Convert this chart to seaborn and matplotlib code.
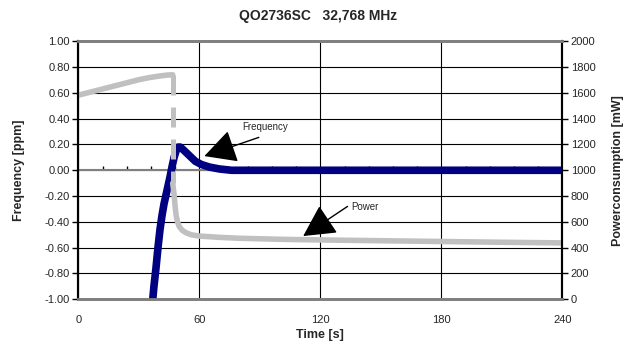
import matplotlib
matplotlib.use('Agg')
import matplotlib.pyplot as plt
import seaborn as sns
import pandas as pd

# values
freq_time = [36.8, 37.5, 38.5, 39.5, 40.5, 41.5, 42.5, 43.5, 44.5, 45.5, 46.5, 47.5, 48.5,
             49.5, 50.5, 52, 54, 56, 58, 61, 65, 70, 76, 100, 150, 200, 240]
freq_ppm = [-1.02, -0.9, -0.76, -0.6, -0.46, -0.35, -0.26, -0.19, -0.12, -0.05, 0.03,
            0.1, 0.15, 0.18, 0.18, 0.16, 0.13, 0.1, 0.07, 0.045, 0.025, 0.01, 0.0, 0.0,
            0.0, 0.0, 0.0]

pwr_time_warmup = [0, 5, 10, 15, 20, 25, 30, 35, 40, 44, 46.8]
pwr_mw_warmup = [1582, 1602, 1622, 1642, 1662, 1682, 1702, 1718, 1730, 1738, 1740]

pwr_time_step = [46.8, 46.8]
pwr_mw_step = [1740, 900]

pwr_time_settled = [46.8, 47.5, 48, 48.5, 49.2, 50, 51.5, 53.5, 56, 60, 70, 80, 100, 120,
                    150, 180, 210, 240]
pwr_mw_settled = [900, 810, 720, 650, 600, 565, 535, 515, 500, 490, 480, 473, 465, 460,
                  454, 448, 442, 437]

x_ticks = [0, 60, 120, 180, 240]
minor_x_ticks = [12, 24, 36, 48, 72, 84, 96, 108, 132, 144, 156, 168, 192, 204, 216, 228]
freq_ticks = [-1.0, -0.8, -0.6, -0.4, -0.2, 0.0, 0.2, 0.4, 0.6, 0.8, 1.0]
freq_tick_labels = ['-1.00', '-0.80', '-0.60', '-0.40', '-0.20', '0.00', '0.20', '0.40',
                    '0.60', '0.80', '1.00']
pwr_ticks = [0, 200, 400, 600, 800, 1000, 1200, 1400, 1600, 1800, 2000]

NAVY = '#000080'
SILVER = '#C0C0C0'
EDGE_GRAY = '#808080'

sns.set_style('white')
plt.rcParams['font.family'] = ['Liberation Sans', 'DejaVu Sans']

freq = pd.DataFrame({'t': freq_time, 'ppm': freq_ppm})
warm = pd.DataFrame({'t': pwr_time_warmup, 'mw': pwr_mw_warmup})
step = pd.DataFrame({'t': pwr_time_step, 'mw': pwr_mw_step})
settled = pd.DataFrame({'t': pwr_time_settled, 'mw': pwr_mw_settled})

fig = plt.figure(figsize=(6.29, 3.44), dpi=100)
ax = fig.add_axes([0.1245, 0.130, 0.7695, 0.750])

# frequency on the left axis
sns.lineplot(data=freq, x='t', y='ppm', ax=ax, color=NAVY, lw=5.5, sort=False,
             estimator=None, zorder=3)
ax.set_xlim(0, 240)
ax.set_ylim(-1, 1)
ax.set_xticks(x_ticks)
ax.set_yticks(freq_ticks)
ax.set_yticklabels(freq_tick_labels)
ax.grid(True, color='black', lw=0.8)
ax.axhline(0, color=EDGE_GRAY, lw=1.5, zorder=2)

# little ticks on the zero line
zero_axis = ax.secondary_xaxis(0.5)
zero_axis.set_xticks(minor_x_ticks)
zero_axis.tick_params(direction='out', length=3, width=1, color='black',
                      labeltop=False, labelbottom=False)
zero_axis.spines[:].set_visible(False)

ax.tick_params(axis='y', left=True, direction='out', length=4, width=1, color='black',
               labelsize=8, pad=2)
ax.tick_params(axis='x', bottom=False, length=0, labelsize=8, pad=11)
ax.set_xlabel('Time [s]', fontsize=9, fontweight='bold', labelpad=3)
ax.set_ylabel('Frequency [ppm]', fontsize=9, fontweight='bold', labelpad=14)

# power on the right axis
ax2 = ax.twinx()
sns.lineplot(data=warm, x='t', y='mw', ax=ax2, color=SILVER, lw=4, sort=False,
             estimator=None)
sns.lineplot(data=step, x='t', y='mw', ax=ax2, color=SILVER, lw=3.6, sort=False,
             estimator=None, linestyle=(0, (4, 2.4)))
sns.lineplot(data=settled, x='t', y='mw', ax=ax2, color=SILVER, lw=4, sort=False,
             estimator=None)
ax2.set_ylim(0, 2000)
ax2.set_yticks(pwr_ticks)
ax2.tick_params(axis='y', right=True, direction='out', length=4, width=1, color='black',
                labelsize=8, pad=2)
ax2.set_ylabel('Powerconsumption [mW]', fontsize=9, fontweight='bold', labelpad=12)
ax2.grid(False)

for a in (ax, ax2):
    a.spines['left'].set_color('black')
    a.spines['right'].set_color('black')
    a.spines['left'].set_linewidth(1.5)
    a.spines['right'].set_linewidth(1.5)
    a.spines['top'].set_color(EDGE_GRAY)
    a.spines['bottom'].set_color(EDGE_GRAY)
    a.spines['top'].set_linewidth(2)
    a.spines['bottom'].set_linewidth(2)

# callouts
arrow = dict(arrowstyle='-|>,head_length=2.0,head_width=1.05', fc='black', ec='black',
             lw=1, shrinkA=0, shrinkB=0)
ax2.annotate('', xy=(62.5, 0.11), xytext=(89.5, 0.255), xycoords=ax.transData,
             textcoords=ax.transData, arrowprops=arrow)
ax2.text(81.5, 0.335, 'Frequency', transform=ax.transData, fontsize=7, ha='left',
         va='center')
ax2.annotate('', xy=(111.5, -0.51), xytext=(133.5, -0.28), xycoords=ax.transData,
             textcoords=ax.transData, arrowprops=arrow)
ax2.text(135.5, -0.287, 'Power', transform=ax.transData, fontsize=7, ha='left',
         va='center')

fig.suptitle('QO2736SC   32,768 MHz', fontsize=10, fontweight='bold', x=0.506, y=0.975)

fig.savefig('out.png', dpi=100)
